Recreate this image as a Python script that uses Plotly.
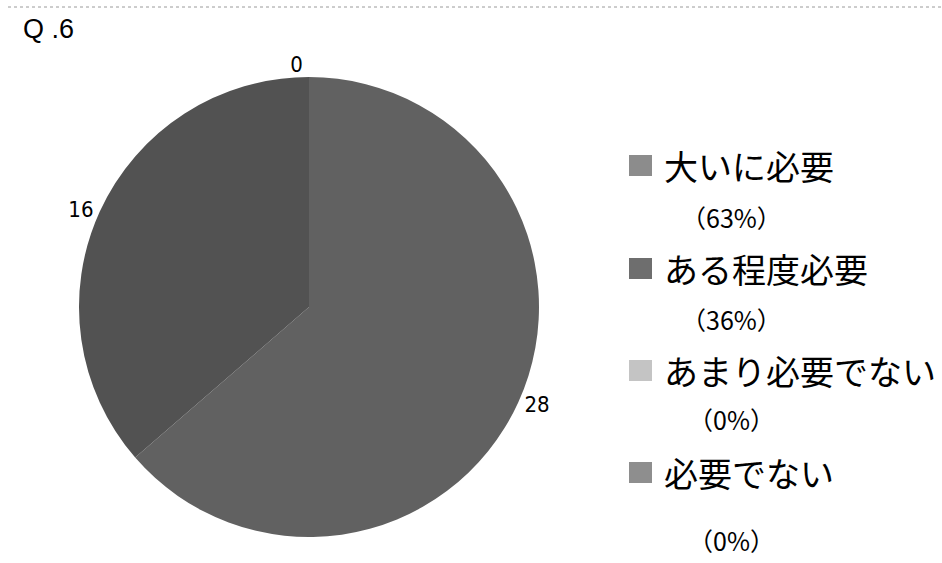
import plotly.graph_objects as go

# ---- data ----
categories = ["大いに必要", "ある程度必要", "あまり必要でない", "必要でない"]
values = [28, 16, 0, 0]
percent_labels = ["（63%）", "（36%）", "（0%）", "（0%）"]
title_text = "Q .6"

# ---- styles ----
pie_colors = ["#616161", "#525252", "#bcbcbc", "#8a8a8a"]
legend_colors = ["#8c8c8c", "#6e6e6e", "#c4c4c4", "#8e8e8e"]
num_font = "DejaVu Sans Condensed, Liberation Sans Narrow, Arial Narrow, sans-serif"
jp_font = "Noto Sans CJK JP, sans-serif"

W, H = 942, 563

# show one label for the coinciding zero-value slices
templates = []
zero_shown = False
for v in values:
    if v == 0:
        templates.append("" if zero_shown else "%{value}")
        zero_shown = True
    else:
        templates.append("%{value}")

fig = go.Figure()
fig.add_trace(go.Pie(
    labels=categories,
    values=values,
    sort=False,
    direction="clockwise",
    rotation=0,
    marker=dict(colors=pie_colors, line=dict(width=0)),
    texttemplate=templates,
    textposition="outside",
    textfont=dict(family=num_font, size=22, color="#000000"),
    showlegend=False,
    domain=dict(x=[79 / W, 539 / W], y=[1 - 537 / H, 1 - 77 / H]),
    hoverinfo="label+value+percent",
))

annotations = []
shapes = []

# title
annotations.append(dict(
    text=title_text, x=21 / W, y=1 - 29 / H, xref="paper", yref="paper",
    xanchor="left", yanchor="middle", showarrow=False,
    font=dict(family="Liberation Sans, Arial, sans-serif", size=27, color="#000000"),
))

# custom legend
label_y = [165, 268, 370, 472]
pct_y = [217, 319, 419, 540]
for i, cat in enumerate(categories):
    cy = label_y[i]
    shapes.append(dict(
        type="rect", xref="paper", yref="paper",
        x0=629 / W, x1=652 / W, y0=1 - (cy + 11) / H, y1=1 - (cy - 10) / H,
        fillcolor=legend_colors[i], line=dict(width=0),
    ))
    annotations.append(dict(
        text=cat, x=662 / W, y=1 - cy / H, xref="paper", yref="paper",
        xanchor="left", yanchor="middle", showarrow=False,
        font=dict(family=jp_font, size=34, color="#000000"),
    ))
    annotations.append(dict(
        text=percent_labels[i], x=731 / W, y=1 - pct_y[i] / H, xref="paper", yref="paper",
        xanchor="center", yanchor="middle", showarrow=False,
        font=dict(family=jp_font, size=25, color="#000000"),
    ))

# top border line
shapes.append(dict(type="line", xref="paper", yref="paper",
                   x0=8 / W, x1=1, y0=1 - 7 / H, y1=1 - 7 / H,
                   line=dict(color="#9a9a9a", width=1, dash="dot")))

fig.update_layout(
    width=W, height=H,
    margin=dict(l=0, r=0, t=0, b=0),
    paper_bgcolor="#ffffff",
    plot_bgcolor="#ffffff",
    annotations=annotations,
    shapes=shapes,
)

fig.write_html("out.html")
